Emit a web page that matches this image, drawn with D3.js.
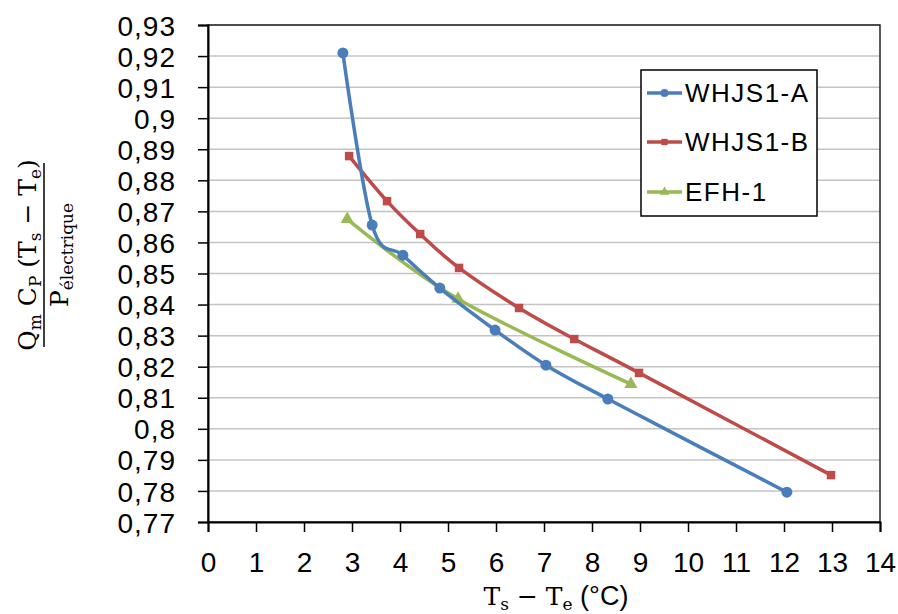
<!DOCTYPE html>
<html><head><meta charset="utf-8">
<script src="https://cdn.jsdelivr.net/npm/d3@7"></script>
<style>body{margin:0;background:#fff}</style>
</head><body>
<svg id="c" width="898" height="614"></svg>
<script>
const xTicks = [0,1,2,3,4,5,6,7,8,9,10,11,12,13,14];
const yTicks = [0.77,0.78,0.79,0.80,0.81,0.82,0.83,0.84,0.85,0.86,0.87,0.88,0.89,0.90,0.91,0.92,0.93];
const seriesNames = ["WHJS1-A","WHJS1-B","EFH-1"];
const seriesColors = ["#4A7EBB","#BE4B48","#98B954"];
const aX = [2.81,3.42,4.06,4.83,5.98,7.04,8.33,12.06];
const aY = [0.921,0.8656,0.8559,0.8453,0.8318,0.8205,0.8096,0.7796];
const bX = [2.94,3.73,4.42,5.23,6.48,7.63,8.98,12.98];
const bY = [0.8878,0.8733,0.8627,0.8518,0.8389,0.8289,0.8180,0.7851];
const cX = [2.90,5.21,8.81];
const cY = [0.8675,0.8418,0.8144];

const svg = d3.select("#c");
const L=208, R=880, T=25, B=522;
const x = d3.scaleLinear().domain([0,14]).range([L,R]);
const y = d3.scaleLinear().domain([0.77,0.93]).range([B,T]);

// gridlines
svg.append("g").selectAll("line").data(yTicks.slice(1)).join("line")
  .attr("x1",L).attr("x2",R).attr("y1",d=>y(d)).attr("y2",d=>y(d))
  .attr("stroke","#c4c4c4").attr("stroke-width",1.5);

// plot border
svg.append("rect").attr("x",L).attr("y",T).attr("width",R-L).attr("height",B-T)
  .attr("fill","none").attr("stroke","#222").attr("stroke-width",1.5);

// axes
const yAxis = d3.axisLeft(y).tickValues(yTicks).tickSize(10).tickPadding(22).tickFormat(d=>{
  let s=d3.format(".2f")(d); if(s.endsWith("0")) s=s.slice(0,-1); return s.replace(".",",");});
const gy = svg.append("g").attr("transform",`translate(${L},0)`).call(yAxis);
const xAxis = d3.axisBottom(x).tickValues(xTicks).tickSize(10).tickPadding(20).tickFormat(d3.format("d"));
const gx = svg.append("g").attr("transform",`translate(0,${B})`).call(xAxis);
[gx,gy].forEach(g=>{
  g.select(".domain").attr("stroke","#000").attr("stroke-width",2);
  g.selectAll(".tick line").attr("stroke","#000").attr("stroke-width",1.5);
  g.selectAll(".tick text").attr("font-family","Liberation Sans, Arial, sans-serif")
    .attr("font-size",28).attr("fill","#000");
});
gy.selectAll(".tick text").attr("dy","0.36em").attr("letter-spacing","1px");
gx.selectAll(".tick text").attr("dy","0.72em");

// series
const series = [
  {name:seriesNames[0], color:seriesColors[0], xs:aX, ys:aY, shape:"circle"},
  {name:seriesNames[1], color:seriesColors[1], xs:bX, ys:bY, shape:"square"},
  {name:seriesNames[2], color:seriesColors[2], xs:cX, ys:cY, shape:"triangle"}
];
const line = d3.line().x(d=>x(d[0])).y(d=>y(d[1])).curve(d3.curveCatmullRom.alpha(0));
const symbolFor = s => s==="circle"? d3.symbol(d3.symbolCircle,95) : s==="square"? d3.symbol(d3.symbolSquare,72) : d3.symbol(d3.symbolTriangle,75);

[1,2,0].forEach(i=>{
  const s = series[i];
  const pts = s.xs.map((v,k)=>[v,s.ys[k]]);
  svg.append("path").datum(pts).attr("d",line).attr("fill","none")
    .attr("stroke",s.color).attr("stroke-width",3.5).attr("stroke-linejoin","round");
  svg.append("g").selectAll("path").data(pts).join("path")
    .attr("d",symbolFor(s.shape)).attr("fill",s.color)
    .attr("transform",d=>`translate(${x(d[0])},${y(d[1])})`);
});

// legend
const lg = svg.append("g");
lg.append("rect").attr("x",641).attr("y",70).attr("width",176).attr("height",146)
  .attr("fill","#fff").attr("stroke","#000").attr("stroke-width",1.5);
const ly = [93,142,192];
series.forEach((s,i)=>{
  lg.append("line").attr("x1",647).attr("x2",682).attr("y1",ly[i]).attr("y2",ly[i])
    .attr("stroke",s.color).attr("stroke-width",3.5);
  lg.append("path").attr("d",d3.symbol(s.shape==="circle"?d3.symbolCircle:s.shape==="square"?d3.symbolSquare:d3.symbolTriangle, s.shape==="circle"?50:40)())
    .attr("fill",s.color).attr("transform",`translate(664.5,${ly[i]})`);
  lg.append("text").attr("x",685).attr("y",ly[i]).attr("dy","0.36em")
    .attr("font-family","Liberation Sans, Arial, sans-serif").attr("font-size",26)
    .attr("letter-spacing","1.5px").attr("fill","#000").text(s.name);
});

// y title (rotated fraction)
const serif = "DejaVu Serif, Liberation Serif, serif";
const yt = svg.append("g").attr("transform","translate(0,255) rotate(-90)");
const num = yt.append("text").attr("x",0).attr("y",36).attr("text-anchor","middle")
  .attr("font-family",serif).attr("font-size",25).attr("fill","#000");
num.append("tspan").text("Q");
num.append("tspan").attr("font-size",17).attr("dy",5).text("m");
num.append("tspan").attr("dy",-5).text(" C");
num.append("tspan").attr("font-size",17).attr("dy",5).text("P");
num.append("tspan").attr("dy",-5).text(" (T");
num.append("tspan").attr("font-size",17).attr("dy",5).text("s");
num.append("tspan").attr("dy",-5).text(" − T");
num.append("tspan").attr("font-size",17).attr("dy",5).text("e");
num.append("tspan").attr("dy",-5).text(")");
yt.append("line").attr("x1",-92).attr("x2",92).attr("y1",44).attr("y2",44)
  .attr("stroke","#000").attr("stroke-width",1.5);
const den = yt.append("text").attr("x",0).attr("y",68).attr("text-anchor","middle")
  .attr("font-family",serif).attr("font-size",25).attr("fill","#000");
den.append("tspan").text("P");
den.append("tspan").attr("font-size",17).attr("dy",5).text("électrique");

// x title
const xt = svg.append("text").attr("x",556).attr("y",605).attr("text-anchor","middle")
  .attr("font-size",25).attr("fill","#000").attr("font-family",serif);
xt.append("tspan").text("T");
xt.append("tspan").attr("font-size",17).attr("dy",5).text("s");
xt.append("tspan").attr("dy",-5).text("  −  T");
xt.append("tspan").attr("font-size",17).attr("dy",5).text("e");
xt.append("tspan").attr("dy",-5).attr("font-family","Liberation Sans, Arial, sans-serif").attr("font-size",27).text(" (°C)");
</script>
</body></html>
